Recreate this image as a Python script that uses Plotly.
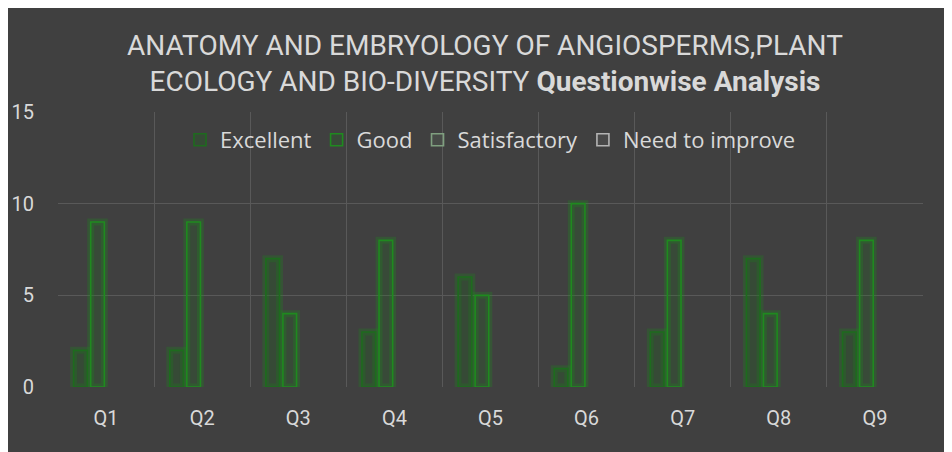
import plotly.graph_objects as go

categories = ["Q1", "Q2", "Q3", "Q4", "Q5", "Q6", "Q7", "Q8", "Q9"]
excellent = [2, 2, 7, 3, 6, 1, 3, 7, 3]
good = [9, 9, 4, 8, 5, 10, 8, 4, 8]
satisfactory = [0, 0, 0, 0, 0, 0, 0, 0, 0]
need_to_improve = [0, 0, 0, 0, 0, 0, 0, 0, 0]
series_names = ["Excellent", "Good", "Satisfactory", "Need to improve"]
y_ticks = [0, 5, 10, 15]

BG = "#404040"
TXT = "#d9d9d9"
GRID = "#595959"
FONT = "Roboto"

series = [excellent, good, satisfactory, need_to_improve]
line_colors = ["#1e6b1e", "#1f8a1f", "#7f9f7f", "#b4b4b4"]
glow_colors = ["rgba(20,150,20,0.22)", "rgba(20,160,20,0.22)",
               "rgba(120,160,120,0.2)", "rgba(180,180,180,0.2)"]
fill_colors = ["rgba(20,110,20,0.22)", "rgba(20,120,20,0.18)",
               "rgba(120,160,120,0.12)", "rgba(180,180,180,0.08)"]


def nonzero(vals):
    # zero-height bars are not drawn in the reference
    return [v if v else None for v in vals]


fig = go.Figure()
for i, (name, vals) in enumerate(zip(series_names, series)):
    fig.add_trace(go.Bar(
        x=categories, y=nonzero(vals), name=name + " glow", offsetgroup=str(i),
        showlegend=False, hoverinfo="skip",
        marker=dict(color="rgba(0,0,0,0)", line=dict(color=glow_colors[i], width=7)),
    ))
for i, (name, vals) in enumerate(zip(series_names, series)):
    fig.add_trace(go.Bar(
        x=categories, y=nonzero(vals), name=name, offsetgroup=str(i),
        marker=dict(color=fill_colors[i], line=dict(color=line_colors[i], width=1.6)),
    ))

FW, FH = 944, 444
W, H = 865, 275
L, T = 50, 104

fig.update_layout(
    width=FW, height=FH,
    margin=dict(l=L, r=FW - L - W, t=T, b=FH - T - H, pad=0, autoexpand=False),
    paper_bgcolor=BG, plot_bgcolor=BG,
    barmode="group", bargap=0.29, bargroupgap=0.2,
    font=dict(family=FONT, color=TXT, size=20),
    title=dict(
        text="ANATOMY AND EMBRYOLOGY OF ANGIOSPERMS,PLANT<br>ECOLOGY AND BIO-DIVERSITY <b>Questionwise Analysis</b>",
        x=477 / FW, xanchor="center", y=1 - 47 / FH, yanchor="middle",
        font=dict(family=FONT, size=28, color=TXT),
    ),
    legend=dict(
        orientation="h", x=0.5, xanchor="center", y=(T + H - 132) / H, yanchor="middle",
        bgcolor="rgba(0,0,0,0)", font=dict(family="Open Sans", size=22, color=TXT),
        itemwidth=30, tracegroupgap=0,
    ),
    showlegend=True,
)
fig.update_xaxes(
    type="category", tickson="boundaries", showgrid=True, gridcolor=GRID, gridwidth=1,
    showline=False, zeroline=False, ticks="", ticklabelstandoff=17, automargin=False,
    tickfont=dict(size=20, color=TXT),
)
fig.update_yaxes(
    range=[0, 15], tickvals=y_ticks, showgrid=False, zeroline=False, showline=False,
    ticks="", ticklabelstandoff=23, automargin=False, tickfont=dict(size=20, color=TXT),
    minor=dict(tickvals=y_ticks[1:], showgrid=True, gridcolor=GRID, gridwidth=1),
)

fig.write_html("out.html")
